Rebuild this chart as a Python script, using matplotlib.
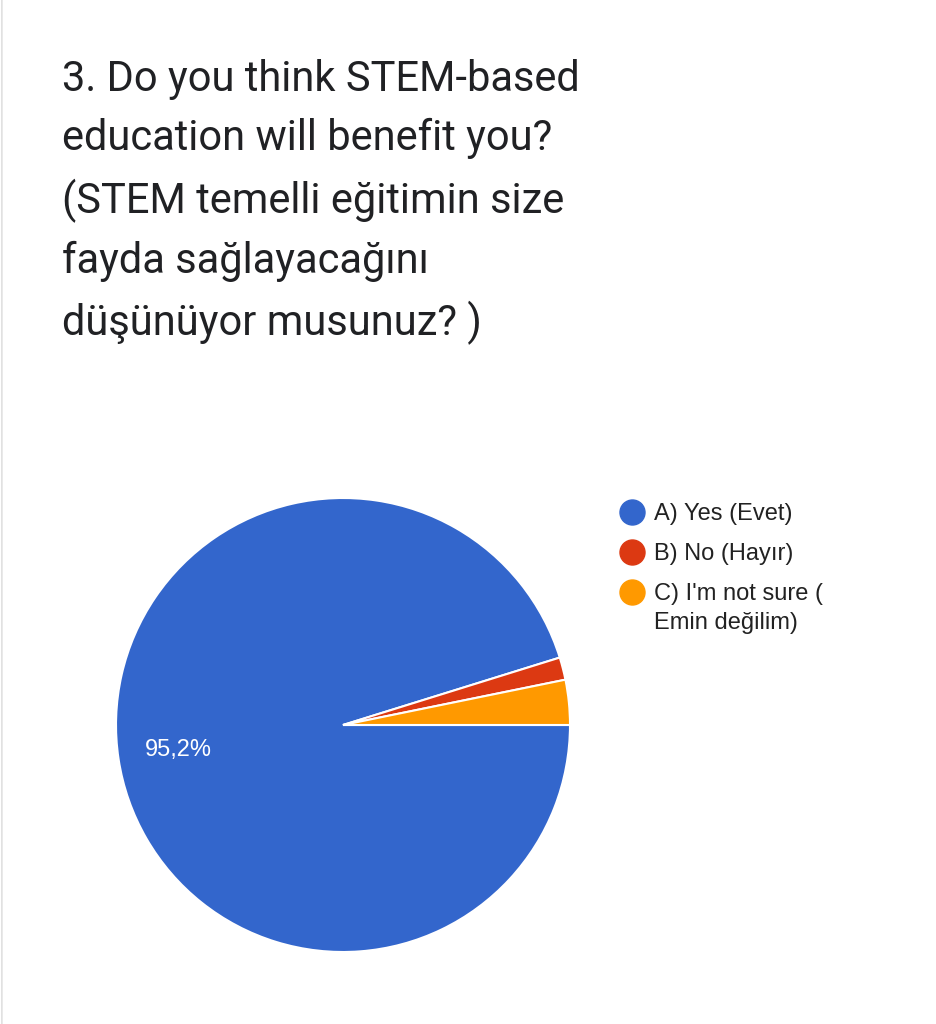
import matplotlib
matplotlib.use("Agg")
import matplotlib.pyplot as plt
from matplotlib.lines import Line2D
from matplotlib.patches import FancyBboxPatch

title = ("3. Do you think STEM-based\n"
         "education will benefit you?\n"
         "(STEM temelli eğitimin size\n"
         "fayda sağlayacağını\n"
         "düşünüyor musunuz? )")
labels = ["A) Yes (Evet)", "B) No (Hayır)", "C) I'm not sure (\nEmin değilim)"]
shares = [95.2, 1.6, 3.2]
colors = ["#3366cc", "#dc3912", "#ff9900"]

W, H = 936, 1024
fig = plt.figure(figsize=(W / 100, H / 100), dpi=100)
fig.patch.set_facecolor("white")

# faint card outline like the screenshot
card = FancyBboxPatch((0.002, -0.05), 1.2, 1.2, boxstyle="round,pad=0,rounding_size=0.02",
                      transform=fig.transFigure, fc="none", ec="#e0e0e0", lw=1.2, zorder=-10)
fig.patches.append(card)

fig.text(62 / W, 1 - 59 / H, title, ha="left", va="top", family="Roboto",
         fontsize=30, color="#202124", linespacing=1.56)

ax = fig.add_axes([(343 - 227) / W, 1 - (725 + 227) / H, 454 / W, 454 / H])


def pct(v):
    return f"{v:.1f}%".replace(".", ",") if v > 10 else ""


wedges, texts, autotexts = ax.pie(shares, colors=colors, startangle=0, counterclock=False,
                                  autopct=pct, pctdistance=0.735,
                                  wedgeprops=dict(edgecolor="white", linewidth=1.5))
for t in autotexts:
    t.set_color("white")
    t.set_fontsize(17)
    t.set_family("Liberation Sans")
ax.set_aspect("equal")
ax.set_xlim(-1, 1)
ax.set_ylim(-1, 1)
ax.axis("off")

# legend drawn by hand so the marker sits on the first line of a wrapped label
y = 512
for lab, c in zip(labels, colors):
    fig.add_artist(Line2D([632 / W], [1 - y / H], marker="o", markersize=18, color=c,
                          transform=fig.transFigure))
    fig.text(654 / W, 1 - (y - 9) / H, lab, ha="left", va="top", family="Liberation Sans",
             fontsize=17, color="#222222", linespacing=1.4)
    y += 40

fig.savefig("out.png", dpi=100)
